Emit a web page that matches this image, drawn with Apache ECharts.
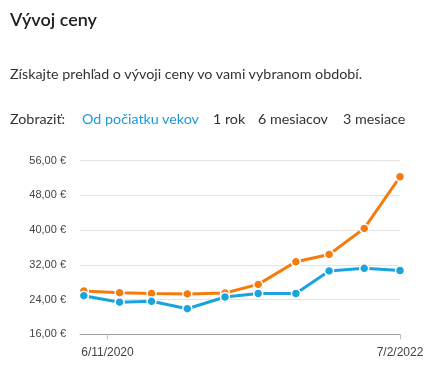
<!DOCTYPE html>
<html>
<head>
<meta charset="utf-8">
<script src="https://cdn.jsdelivr.net/npm/echarts@6/dist/echarts.min.js"></script>
<style>
  body { margin: 0; background: #fff; font-family: Lato, "Noto Sans", sans-serif; color: #333; }
  #wrap { position: relative; width: 431px; height: 384px; overflow: hidden; }
  .title { position: absolute; left: 10px; top: 8px; font-size: 18px; font-weight: 600; color: #222; }
  .sub { position: absolute; left: 10px; top: 65px; font-size: 14.3px; }
  .nav { position: absolute; left: 10px; top: 110px; font-size: 14.3px; white-space: nowrap; }
  .nav span { position: absolute; top: 0; }
  .nav .on { color: #1a9ad6; }
  #chart { position: absolute; left: 0; top: 0; width: 431px; height: 384px; }
</style>
</head>
<body>
<div id="wrap">
  <div id="chart"></div>
  <div class="title">Vývoj ceny</div>
  <div class="sub">Získajte prehľad o vývoji ceny vo vami vybranom období.</div>
  <div class="nav">
    <span style="left:0">Zobraziť:</span>
    <span class="on" style="left:72px">Od počiatku vekov</span>
    <span style="left:203px">1 rok</span>
    <span style="left:248px">6 mesiacov</span>
    <span style="left:333px">3 mesiace</span>
  </div>
</div>
<script>
// dátumy meraní (odhad z grafu)
var dates = ['2020-09-30', '2020-11-25', '2021-01-14', '2021-03-11', '2021-05-09',
             '2021-06-30', '2021-08-28', '2021-10-19', '2021-12-13', '2022-02-07'];
var priceHigh = [26.0, 25.6, 25.4, 25.3, 25.5, 27.5, 32.7, 34.4, 40.4, 52.3];
var priceLow  = [24.9, 23.4, 23.6, 21.9, 24.6, 25.4, 25.4, 30.6, 31.2, 30.7];
var xLabelDates = ['2020-11-06', '2022-02-07'];
var yTicks = [16, 24, 32, 40, 48, 56];

function ts(s) {
    return +new Date(s + 'T00:00:00Z');
}
function toPairs(vals) {
    var arr = [];
    for (var i = 0; i < vals.length; i++) {
        arr.push([ts(dates[i]), vals[i]]);
    }
    return arr;
}
function fmtDate(v) {
    var d = new Date(v);
    return d.getUTCDate() + '/' + (d.getUTCMonth() + 1) + '/' + d.getUTCFullYear();
}
var tickTimes = xLabelDates.map(ts);

function lineSeries(name, vals, color) {
    return {
        name: name,
        type: 'line',
        data: toPairs(vals),
        symbol: 'circle',
        symbolSize: 9,
        lineStyle: { width: 3, color: color },
        itemStyle: { color: color, borderColor: '#fff', borderWidth: 1.5 },
        emphasis: { disabled: true },
        z: 3
    };
}

var chart = echarts.init(document.getElementById('chart'));
chart.setOption({
    animation: false,
    grid: { left: 80, right: 31, top: 160.7, bottom: 49.7 },
    xAxis: {
        type: 'value',
        min: ts('2020-09-24'),
        max: ts('2022-02-07'),
        axisLine: { lineStyle: { color: '#9e9e9e', width: 1 } },
        axisTick: { show: true, length: 5, customValues: tickTimes, lineStyle: { color: '#bdbdbd' } },
        axisLabel: {
            customValues: tickTimes,
            formatter: function (v) { return fmtDate(v); },
            color: '#444', fontFamily: 'Liberation Sans, Arial', fontSize: 12, margin: 12
        },
        splitLine: { show: false }
    },
    yAxis: {
        type: 'value',
        min: yTicks[0],
        max: yTicks[yTicks.length - 1],
        interval: 8,
        axisLine: { show: false },
        axisTick: { show: false },
        axisLabel: {
            formatter: function (v) { return v.toFixed(2).replace('.', ',') + ' €'; },
            color: '#444', fontFamily: 'Liberation Sans, Arial', fontSize: 11, margin: 14
        },
        splitLine: { lineStyle: { color: '#e3e3e3', width: 1 } }
    },
    series: [
        lineSeries('Cena max', priceHigh, '#f47b0e'),
        lineSeries('Cena min', priceLow, '#1aa3dc')
    ]
});
</script>
</body>
</html>
